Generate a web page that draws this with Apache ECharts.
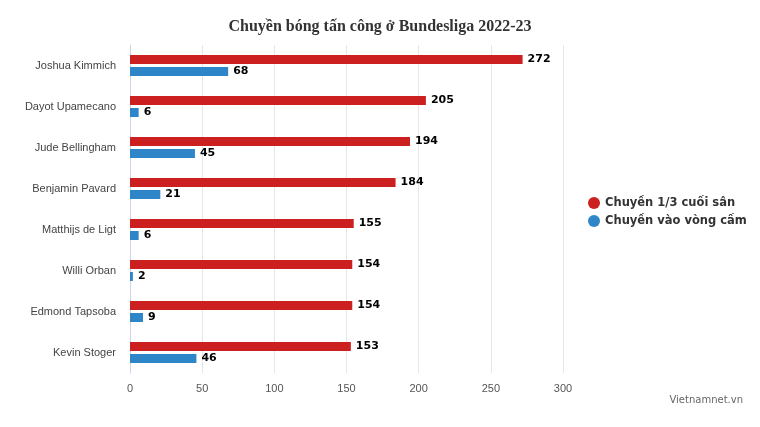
<!DOCTYPE html>
<html><head><meta charset="utf-8">
<script src="https://cdn.jsdelivr.net/npm/echarts@6/dist/echarts.min.js"></script>
<style>html,body{margin:0;padding:0;background:#fff}#c{width:760px;height:427px}</style>
</head><body><div id="c"></div>
<script>
const players = ["Joshua Kimmich","Dayot Upamecano","Jude Bellingham","Benjamin Pavard","Matthijs de Ligt","Willi Orban","Edmond Tapsoba","Kevin Stoger"];
const finalThird = [272,205,194,184,155,154,154,153];
const penaltyArea = [68,6,45,21,6,2,9,46];
const xTicks = [0,50,100,150,200,250,300];

const chart = echarts.init(document.getElementById('c'));
const lbl = {show:true, position:'right', color:'#000', fontWeight:'bold', fontSize:11, fontFamily:'DejaVu Sans', distance:5};
chart.setOption({
  animation:false,
  title:{text:'Chuyền bóng tấn công ở Bundesliga 2022-23', left:'center', top:14,
    textStyle:{fontFamily:'Liberation Serif', fontWeight:'bold', fontSize:16, color:'#333'}},
  legend:{orient:'vertical', left:583, top:192, itemGap:6, icon:'circle', itemWidth:12, itemHeight:12,
    textStyle:{fontWeight:'bold', fontSize:11.5, color:'#333', fontFamily:'DejaVu Sans'}},
  graphic:[{type:'text', right:17, top:395, style:{text:'Vietnamnet.vn', fill:'#666', fontSize:10, fontFamily:'DejaVu Sans'}}],
  grid:{left:130, top:45, width:433, height:328},
  xAxis:{type:'value', min:0, max:300, interval:50,
    axisLabel:{color:'#555', fontSize:11, margin:10, formatter:v=>xTicks.includes(v)?String(v):''},
    splitLine:{lineStyle:{color:'#e6e6e6'}}},
  yAxis:{type:'category', data:players, inverse:true,
    axisLine:{lineStyle:{color:'#ccd6eb'}}, axisTick:{show:false},
    axisLabel:{color:'#444', fontSize:11, margin:14}},
  series:[
    {name:'Chuyền 1/3 cuối sân', type:'bar', data:finalThird, barWidth:9, barGap:'33%', itemStyle:{color:'#cc1f1f'}, label:lbl},
    {name:'Chuyền vào vòng cấm', type:'bar', data:penaltyArea, barWidth:9, itemStyle:{color:'#2e86c8'}, label:lbl}
  ]
});
</script></body></html>
